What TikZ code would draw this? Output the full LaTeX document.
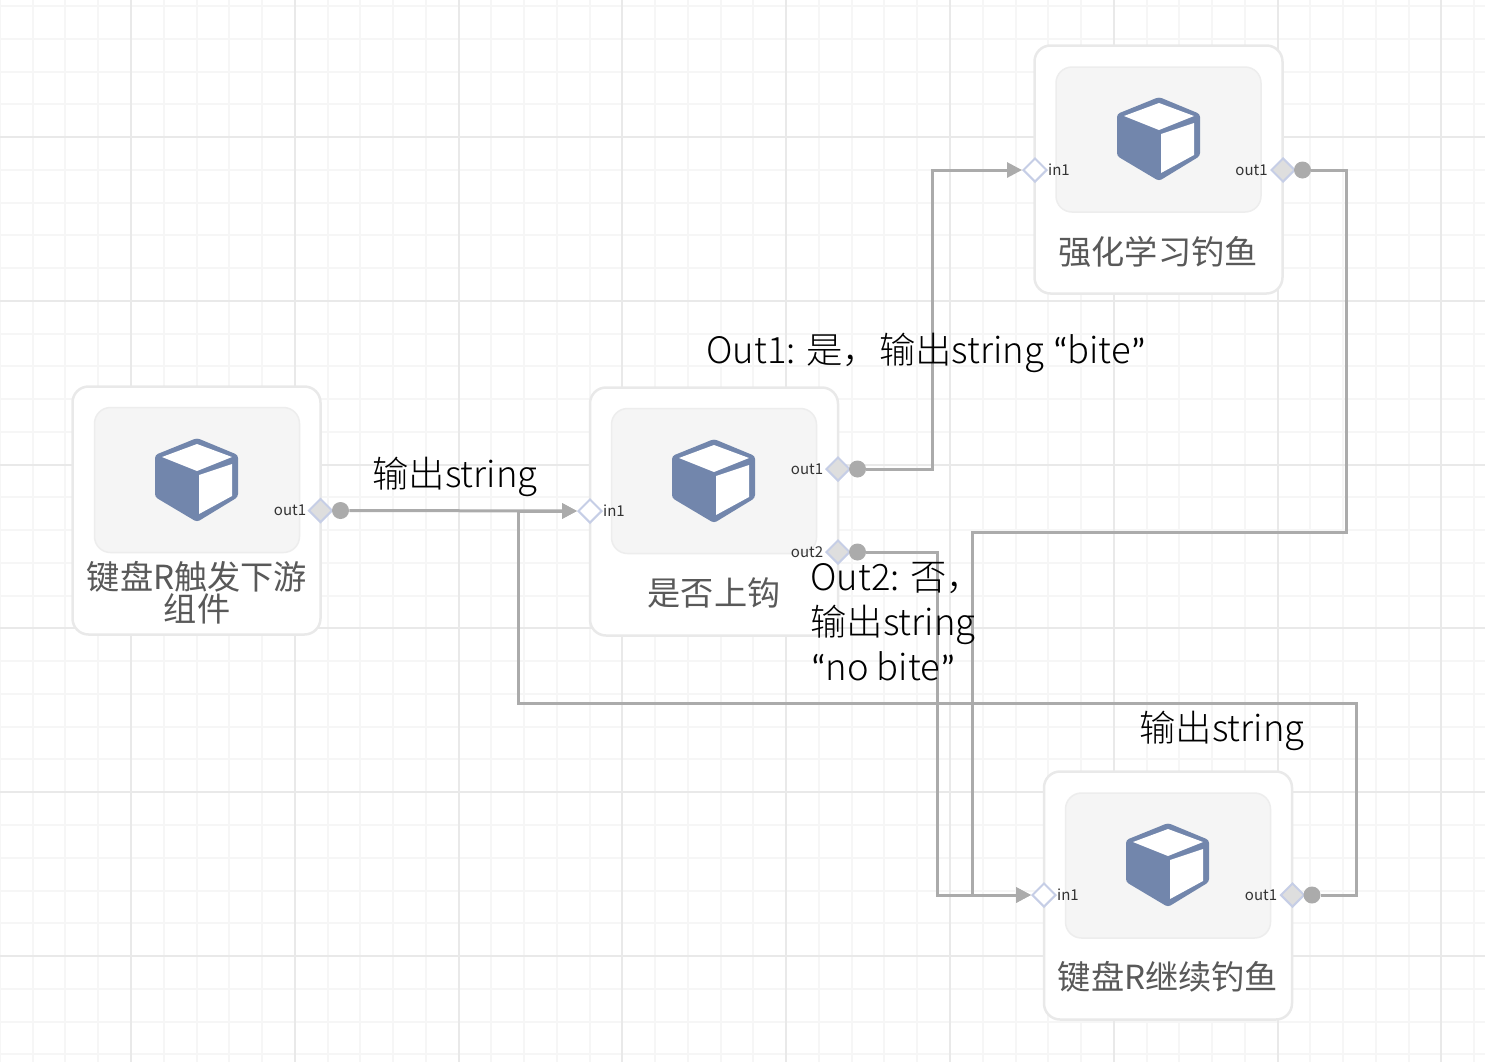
\documentclass[tikz,border=0pt]{standalone}
\usepackage{fontspec}
\setmainfont{Noto Sans CJK SC Light}
\newfontfamily\regularcjk{Noto Sans CJK SC}
\newfontfamily\quotefont{Carlito}
\usetikzlibrary{arrows.meta,shapes.geometric}
\definecolor{minorgrid}{HTML}{F6F6F6}
\definecolor{majorgrid}{HTML}{E9E9E9}
\definecolor{wiregray}{HTML}{ABABAB}
\definecolor{cubeblue}{HTML}{7286AC}
\definecolor{portblue}{HTML}{C6CEE6}
\tikzset{
	cubeicon/.pic={
		\fill[cubeblue, rounded corners=1.5pt]
			(0,-42) -- (41,-25) -- (41,17) -- (0,42) -- (-42,17) -- (-42,-25) -- cycle;
		\fill[white]
			(0,-36) -- (35,-23) -- (0,-9) -- (-35,-23) -- cycle
			(2,-5) -- (35,-16) -- (35,16) -- (2,34) -- cycle;
	}
}
\begin{document}
\begin{tikzpicture}[x=0.5pt, y=-0.5pt,
	panel/.style={draw=majorgrid, line width=1.25pt, fill=white, rounded corners=8pt, minimum size=124pt, inner sep=0pt},
	innerpanel/.style={draw=black!7, line width=0.75pt, fill=black!4, rounded corners=8pt, minimum width=102.5pt, minimum height=72.5pt, inner sep=0pt},
	title/.style={text=black!65, font=\regularcjk\fontsize{16.6}{16}\selectfont, align=center, inner sep=0pt},
	portin/.style={diamond, draw=portblue, line width=1pt, fill=white, minimum size=12pt, inner sep=0pt},
	portout/.style={diamond, draw=portblue, line width=1pt, fill=black!13, minimum size=12pt, inner sep=0pt},
	portdot/.style={circle, fill=wiregray, minimum size=8.5pt, inner sep=0pt},
	portname/.style={text=black!80, font=\regularcjk\fontsize{7.5}{9}\selectfont, inner sep=0pt},
	wire/.style={draw=wiregray, line width=1.5pt},
	wirein/.style={wire, -{Triangle[length=7.5pt, width=7.5pt]}},
	note/.style={font=\fontsize{18.2}{22.5}\selectfont, align=left, inner sep=0pt}]
	\useasboundingbox (0,0) rectangle (1485,1062);

	% grid
	\foreach \i in {0,...,45} {
		\pgfmathsetmacro{\gx}{131+32.76*(\i-4)}
		\draw[minorgrid, line width=1pt] (\gx,0) -- (\gx,1062);
	}
	\foreach \i in {0,...,32} {
		\pgfmathsetmacro{\gy}{6+32.76*\i}
		\draw[minorgrid, line width=1pt] (0,\gy) -- (1485,\gy);
	}
	\foreach \i in {0,...,8} {
		\pgfmathsetmacro{\gx}{131+163.8*\i}
		\draw[majorgrid, line width=1pt] (\gx,0) -- (\gx,1062);
	}
	\foreach \i in {0,...,5} {
		\pgfmathsetmacro{\gy}{137+163.8*\i}
		\draw[majorgrid, line width=1pt] (0,\gy) -- (1485,\gy);
	}

	% panels
	\node[panel] at (196.5,510.5) (keyR) {};
	\node[panel] at (714,511.5) (hook) {};
	\node[panel] at (1158.5,169.5) (learn) {};
	\node[panel] at (1168,895.5) (keyGo) {};

	\node[innerpanel] at (197,480) (keyRbox) {};
	\node[innerpanel] at (714,481) (hookbox) {};
	\node[innerpanel] at (1158.5,139.5) (learnbox) {};
	\node[innerpanel] at (1168,865.5) (keyGobox) {};

	\pic at (197,480) {cubeicon};
	\pic at (714,481) {cubeicon};
	\pic at (1159,139) {cubeicon};
	\pic at (1168,865) {cubeicon};

	\node[title] at (197,593) (keyRtitle) {键盘R触发下游\\组件};
	\node[title] at (714,593) (hooktitle) {是否上钩};
	\node[title] at (1158,252) (learntitle) {强化学习钓鱼};
	\node[title] at (1168,977) (keyGotitle) {键盘R继续钓鱼};

	% ports
	\node[portout] at (320.5,510.5) (keyRout) {};
	\node[portdot] at (340.5,510.5) (keyRdot) {};
	\node[portin] at (590,511) (hookin) {};
	\node[portout] at (838,469) (hookoutA) {};
	\node[portdot] at (857.5,469) (hookdotA) {};
	\node[portout] at (838,552) (hookoutB) {};
	\node[portdot] at (857.5,552) (hookdotB) {};
	\node[portin] at (1035,170) (learnin) {};
	\node[portout] at (1283,170) (learnout) {};
	\node[portdot] at (1302.5,170) (learndot) {};
	\node[portin] at (1044,895) (keyGoin) {};
	\node[portout] at (1292.5,895) (keyGoout) {};
	\node[portdot] at (1312,895) (keyGodot) {};

	\node[portname] at (290,510) (keyRoutname) {out1};
	\node[portname] at (614,511) (hookinname) {in1};
	\node[portname] at (807,469) (hookoutAname) {out1};
	\node[portname] at (807,552) (hookoutBname) {out2};
	\node[portname] at (1059,170) (learninname) {in1};
	\node[portname] at (1251.5,170) (learnoutname) {out1};
	\node[portname] at (1068,895) (keyGoinname) {in1};
	\node[portname] at (1261,895) (keyGooutname) {out1};

	% wires
	\coordinate (upA) at (932,469);
	\coordinate (upB) at (932,170);
	\coordinate (downA) at (937,552);
	\coordinate (downB) at (937,895);
	\coordinate (backA) at (1346.5,170);
	\coordinate (backB) at (1346.5,532);
	\coordinate (backC) at (972,532);
	\coordinate (backD) at (972,895);
	\coordinate (loopA) at (1356.5,895);
	\coordinate (loopB) at (1356.5,703);
	\coordinate (loopC) at (518,703);
	\coordinate (loopD) at (518,511);

	\draw[wirein] (keyRdot) -- (hookin);
	\draw[wirein] (hookdotA) -- (upA) -- (upB) -- (learnin);
	\draw[wirein] (hookdotB) -- (downA) -- (downB) -- (keyGoin);
	\draw[wirein] (learndot) -- (backA) -- (backB) -- (backC) -- (backD) -- (keyGoin);
	\draw[wirein] (keyGodot) -- (loopA) -- (loopB) -- (loopC) -- (loopD) -- (hookin);

	% notes
	\node[note, anchor=west] at (372,477) (noteA) {输出string};
	\node[note, anchor=west] at (706,353) (noteB) {Out1: 是，输出string {\quotefont “}bite{\quotefont ”}};
	\node[note, anchor=north west] at (810,562) (noteC) {Out2: 否，\\输出string\\{\quotefont “}no bite{\quotefont ”}};
	\node[note, anchor=west] at (1139,731) (noteD) {输出string};
\end{tikzpicture}
\end{document}
